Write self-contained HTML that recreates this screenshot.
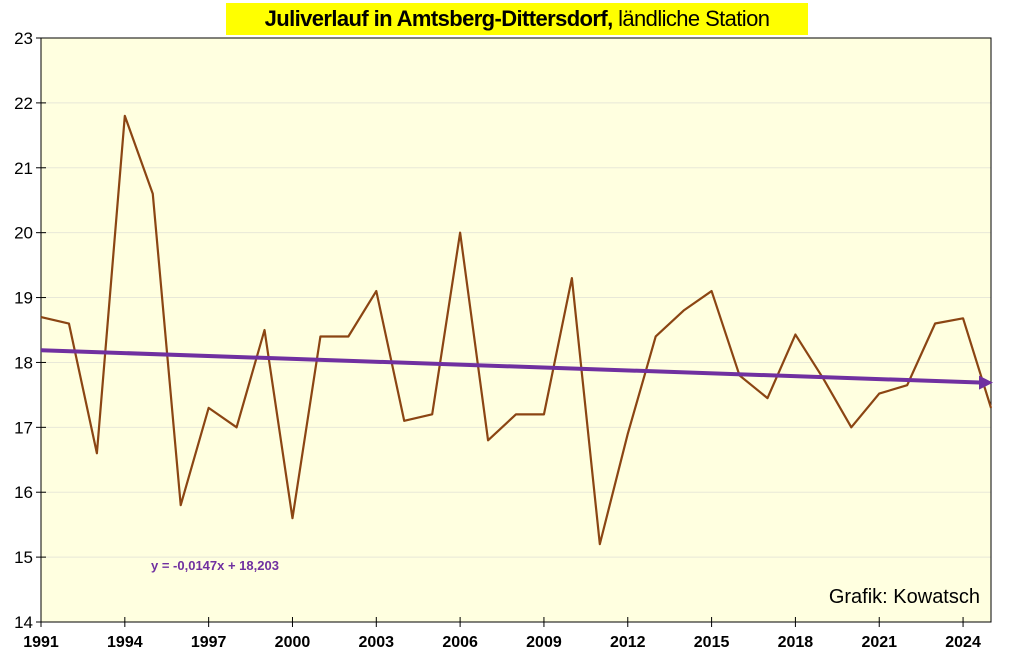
<!DOCTYPE html>
<html><head><meta charset="utf-8"><style>
body{margin:0;width:1024px;height:662px;background:#fff;overflow:hidden;font-family:"Liberation Sans",sans-serif}
#title{position:absolute;left:226px;top:3px;width:582px;height:32px;background:#ffff00;font-size:22px;line-height:32px;text-align:center;white-space:nowrap;letter-spacing:-0.6px}
</style></head><body>
<div id="title"><b>Juliverlauf in Amtsberg-Dittersdorf,</b> ländliche Station</div>
<svg id="c" width="1024" height="662" style="position:absolute;left:0;top:0"></svg>
<script>
const years=[1991,1992,1993,1994,1995,1996,1997,1998,1999,2000,2001,2002,2003,2004,2005,2006,2007,2008,2009,2010,2011,2012,2013,2014,2015,2016,2017,2018,2019,2020,2021,2022,2023,2024,2025];
const temps=[18.7,18.6,16.6,21.8,20.6,15.8,17.3,17.0,18.5,15.6,18.4,18.4,19.1,17.1,17.2,20.0,16.8,17.2,17.2,19.3,15.2,16.9,18.4,18.8,19.1,17.8,17.45,18.43,17.75,17.0,17.52,17.65,18.6,18.68,17.3];
const yTicks=[14,15,16,17,18,19,20,21,22,23];
const xTicks=[1991,1994,1997,2000,2003,2006,2009,2012,2015,2018,2021,2024];
const trend=[-0.0147,18.203];
const NS="http://www.w3.org/2000/svg";
const svg=document.getElementById('c');
const X0=41,X1=991,Y0=38,Y1=622;
const xs=y=>X0+(y-1991)/(2025-1991)*(X1-X0);
const ys=v=>Y1-(v-14)/(23-14)*(Y1-Y0);
function mk(t,a,p){const e=document.createElementNS(NS,t);for(const k in a)e.setAttribute(k,a[k]);(p||svg).appendChild(e);return e;}
let r=mk('rect',{x:X0,y:Y0,width:X1-X0,height:Y1-Y0,fill:'#ffffe0',stroke:'#000','stroke-width':1});


for(const t of yTicks){
  let g=mk('line',{x1:X0,x2:X1,y1:ys(t),y2:ys(t),stroke:'#e8e8d8','stroke-width':1});
  
  
  let tk=mk('line',{x1:X0-5,x2:X0+5,y1:ys(t),y2:ys(t),stroke:'#000','stroke-width':1});
  
  
  let l=mk('text',{x:X0-8,y:ys(t)+6,'text-anchor':'end','font-size':17,fill:'#000'});l.textContent=t;
  
  
}
for(const t of xTicks){
  let tk=mk('line',{x1:xs(t),x2:xs(t),y1:Y1-5,y2:Y1+5,stroke:'#000','stroke-width':1});
  
  
  let l=mk('text',{x:xs(t),y:Y1+25,'text-anchor':'middle','font-size':16,'font-weight':'bold',fill:'#000'});l.textContent=t;
  
  
}
mk('rect',{x:X0,y:Y0,width:X1-X0,height:Y1-Y0,fill:'none',stroke:'#000','stroke-width':1});
let d=years.map((y,i)=>(i?'L':'M')+xs(y)+','+ys(temps[i])).join('');
let p=mk('path',{d:d,fill:'none',stroke:'#8b4513','stroke-width':2.2,'stroke-linejoin':'round'});


const tv=i=>trend[0]*i+trend[1];
let tl=mk('line',{x1:xs(1991),y1:ys(tv(1)),x2:xs(2025)-8,y2:ys(tv(35)),stroke:'#7030a0','stroke-width':4});


let ah=mk('polygon',{points:`${xs(2025)+2},${ys(tv(35))} ${xs(2025)-12},${ys(tv(35))-7} ${xs(2025)-12},${ys(tv(35))+7}`,fill:'#7030a0'});


let eq=mk('text',{x:151,y:570,'font-size':13,'font-weight':'bold',fill:'#7030a0'});eq.textContent='y = -0,0147x + 18,203';


let cr=mk('text',{x:980,y:603,'text-anchor':'end','font-size':20,fill:'#000'});cr.textContent='Grafik: Kowatsch';


</script>
</body></html>
